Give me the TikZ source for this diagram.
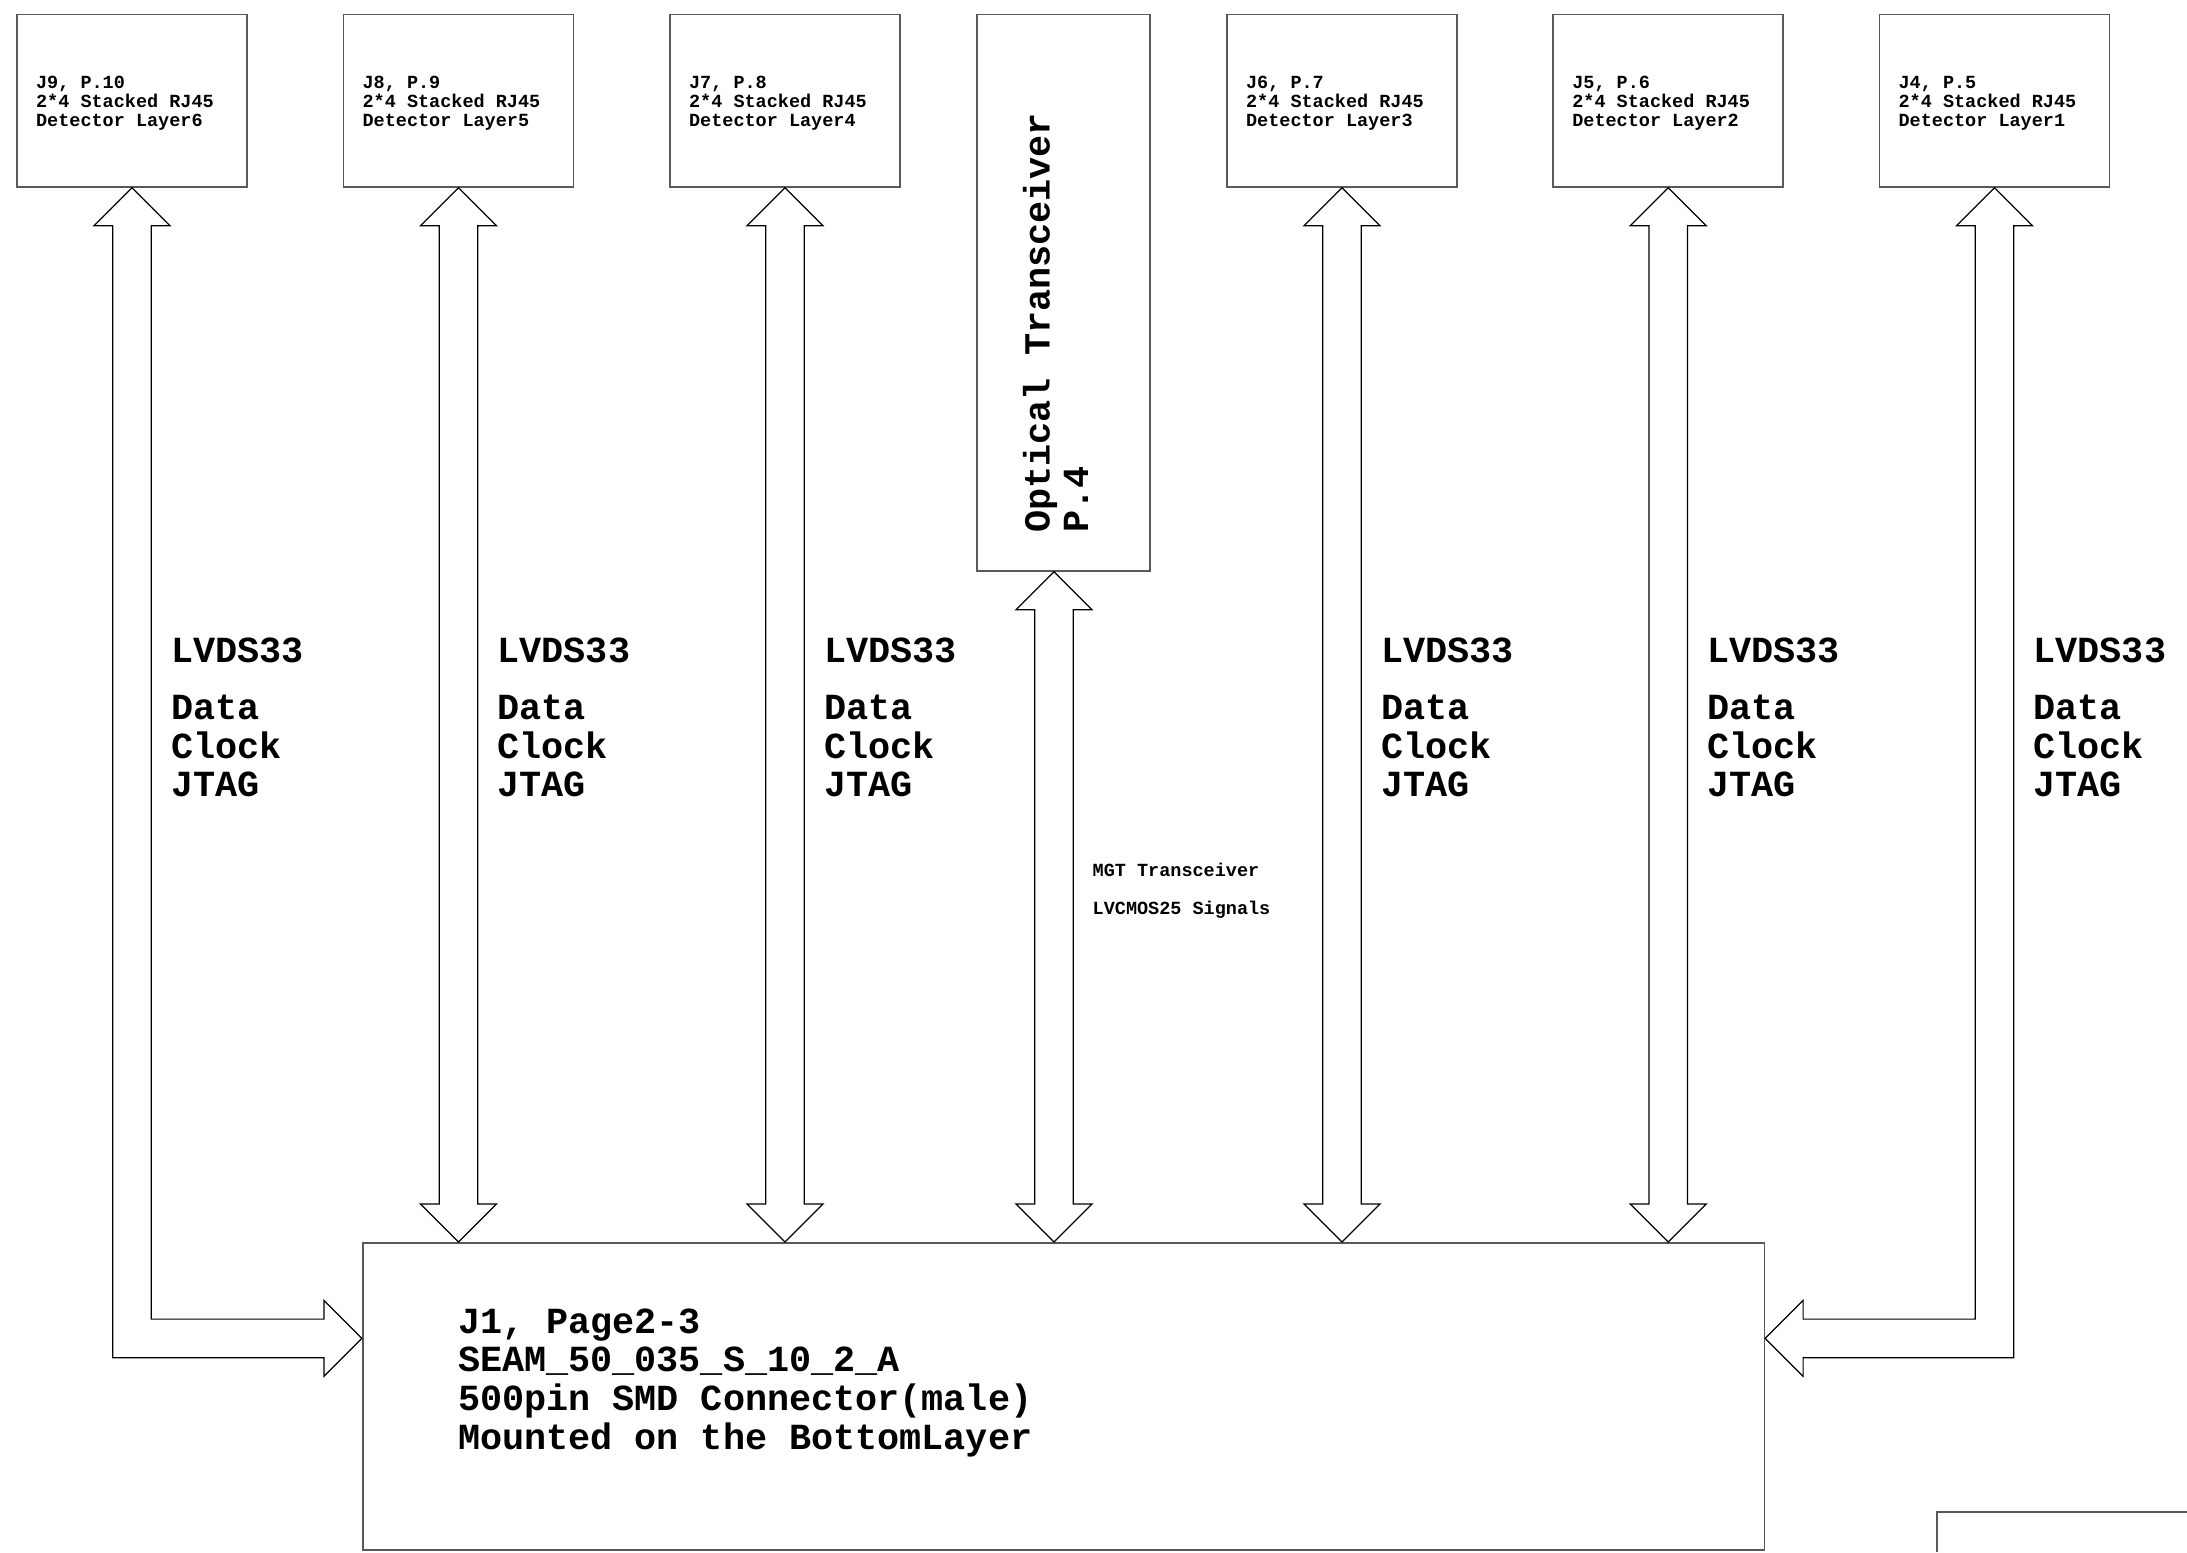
\documentclass[tikz,border=0pt]{standalone}
\usepackage{fontspec}
\setmainfont{Liberation Mono}
\usetikzlibrary{calc}

\tikzset{
	board/.style={draw=black!65, line width=0.8pt, inner sep=0pt},
	small/.style={font=\fontsize{9.25}{9.6}\selectfont\bfseries, inner sep=0pt},
	big/.style={font=\fontsize{18.4}{19.25}\selectfont\bfseries, inner sep=0pt},
	bus/.style={draw=black, line width=0.6pt, fill=white, line join=miter},
}

% block arrow with two heads, top tip #1, bottom tip #2
\newcommand{\busarrow}[2]{%
	\draw[bus] (#1) -- ++(38,38) -- ++(-18.7,0) -- ($(#2)+(19.3,-38)$) -- ++(18.7,0) -- (#2)
		-- ++(-38,-38) -- ++(18.7,0) -- ($(#1)+(-19.3,38)$) -- ++(-18.7,0) -- cycle;}

\begin{document}
\begin{tikzpicture}[x=0.5pt, y=-0.5pt]
	\useasboundingbox (0,0) rectangle (2187,1552);

	% RJ45 connectors (text nodes sit on their last baseline)
	\foreach \n/\x/\lbl/\lay in {j9/132/{J9, P.10}/6, j8/458.5/{J8, P.9}/5, j7/785/{J7, P.8}/4,
			j6/1342/{J6, P.7}/3, j5/1668.2/{J5, P.6}/2, j4/1994.5/{J4, P.5}/1} {
		\node[board, minimum width=115pt, minimum height=86.25pt] (\n) at (\x,100.75) {};
		\node[small, anchor=base west, align=left] (\n-txt) at ($(\n.north west)+(19.5,113.2)$)
			{\lbl\\2*4 Stacked RJ45\\Detector Layer\lay};
		\node[big, anchor=base west, align=left] (\n-sig) at ($(\n.south)+(38.7,609)$)
			{LVDS33\\[9.4pt]Data\\Clock\\JTAG};
	}

	% optical transceiver
	\node[board, minimum width=86.5pt, minimum height=278.25pt] (opt) at (1063.5,292.75) {};
	\node[big, rotate=90, anchor=base west, align=left] (opt-txt) at (1088,533)
		{Optical Transceiver\\P.4};

	% main connector
	\node[board, minimum width=700.8pt, minimum height=153.6pt] (j1) at (1063.5,1396.4) {};
	\node[small, anchor=base west, align=left, font=\fontsize{18.4}{19.35}\selectfont\bfseries]
		(j1-txt) at ($(j1.north west)+(95.8,207.3)$)
		{J1, Page2-3\\SEAM\_50\_035\_S\_10\_2\_A\\500pin SMD Connector(male)\\Mounted on the BottomLayer};

	% buses
	\foreach \n in {j8,j7,j6,j5} {
		\coordinate (\n-bot) at (j1.north -| \n.south);
		\busarrow{\n.south}{\n-bot}
	}
	\coordinate (opt-top) at ($(opt.south)+(-9.5,0)$);
	\coordinate (opt-bot) at (j1.north -| opt-top);
	\busarrow{opt-top}{opt-bot}
	\node[small, anchor=base west, align=left] (mgt) at (1092.3,914)
		{MGT Transceiver\\[9.4pt]LVCMOS25 Signals};

	\coordinate (inL) at ($(j1.west)+(0,-58)$);
	\coordinate (inR) at ($(j1.east)+(0,-58)$);
	\draw[bus] (j9.south) -- ++(38,38) -- ++(-18.7,0) |- ($(inL)+(-38,-19.3)$) -- ++(0,-18.7) -- (inL)
		-- ++(-38,38) -- ++(0,-18.7) -| ($(j9.south)+(-19.3,38)$) -- ++(-18.7,0) -- cycle;
	\draw[bus] (j4.south) -- ++(-38,38) -- ++(18.7,0) |- ($(inR)+(38,-19.3)$) -- ++(0,-18.7) -- (inR)
		-- ++(38,38) -- ++(0,-18.7) -| ($(j4.south)+(19.3,38)$) -- ++(18.7,0) -- cycle;

	% title block corner
	\draw[board] (1936.7,1552) |- (2187,1511.7);
\end{tikzpicture}
\end{document}
